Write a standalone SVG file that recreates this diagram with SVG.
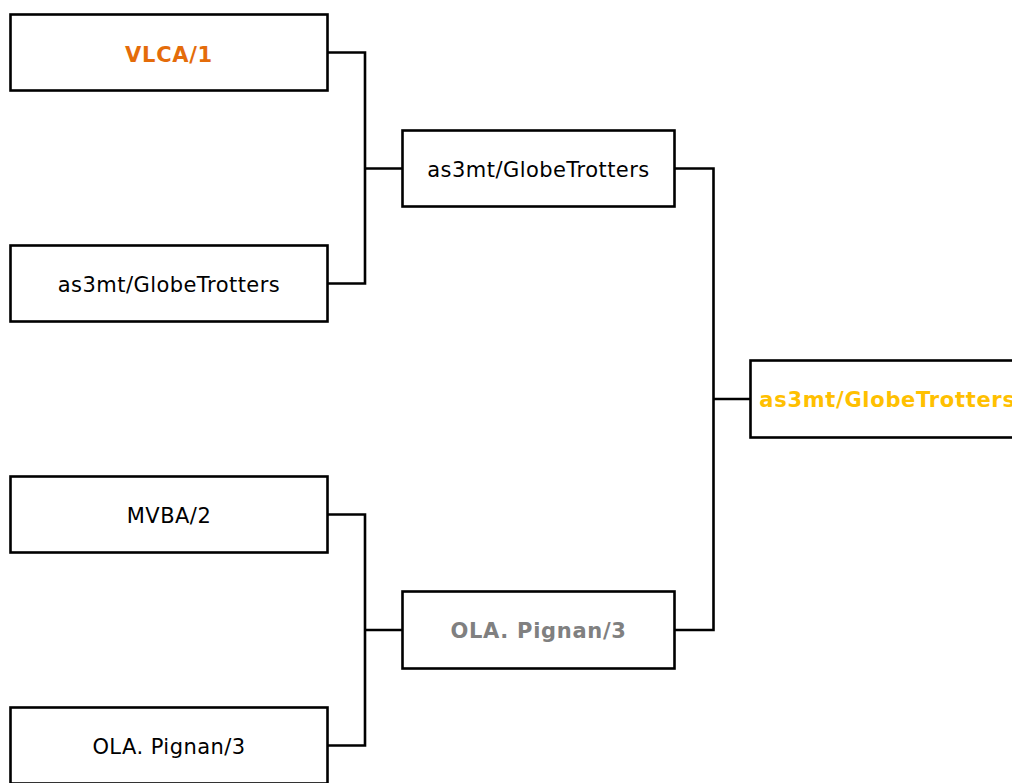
<svg xmlns="http://www.w3.org/2000/svg" width="1012" height="783" viewBox="0 0 1012 783">
<style>
.box{fill:#fff;stroke:#000;stroke-width:2.6}
.lbl{font-family:"DejaVu Sans",Verdana,sans-serif;font-size:21px;text-anchor:middle;fill:#000;letter-spacing:0.45px}
.b{font-weight:bold;letter-spacing:0.7px}
.con{fill:none;stroke:#000;stroke-width:2.6}
</style>
<rect width="1012" height="783" fill="#fff"/>
<g id="connectors">
<path class="con" d="M327.5,52.5H365V283.5H327.5M365,168.5H402.5"/>
<path class="con" d="M327.5,514.5H365V745.5H327.5M365,630H402.5"/>
<path class="con" d="M675,168.5H713.5V630H675M713.5,399H750.5"/>
</g>
<g id="n1"><rect class="box" x="10.5" y="14.5" width="317" height="76"/><text class="lbl b" x="169" y="62" style="fill:#E46C0A">VLCA/1</text></g>
<g id="n2"><rect class="box" x="10.5" y="245.5" width="317" height="76"/><text class="lbl" x="169" y="292">as3mt/GlobeTrotters</text></g>
<g id="n3"><rect class="box" x="10.5" y="476.5" width="317" height="76"/><text class="lbl" x="169" y="523">MVBA/2</text></g>
<g id="n4"><rect class="box" x="10.5" y="707.5" width="317" height="76"/><text class="lbl" x="169" y="754">OLA. Pignan/3</text></g>
<g id="n5"><rect class="box" x="402.5" y="130.5" width="272" height="76"/><text class="lbl" x="538.5" y="177">as3mt/GlobeTrotters</text></g>
<g id="n6"><rect class="box" x="402.5" y="591.5" width="272" height="77"/><text class="lbl b" x="538.5" y="638" style="fill:#808080">OLA. Pignan/3</text></g>
<g id="n7"><rect class="box" x="750.5" y="360.5" width="274" height="77"/><text class="lbl b" x="887.5" y="407" style="fill:#FFC000">as3mt/GlobeTrotters</text></g>
</svg>
